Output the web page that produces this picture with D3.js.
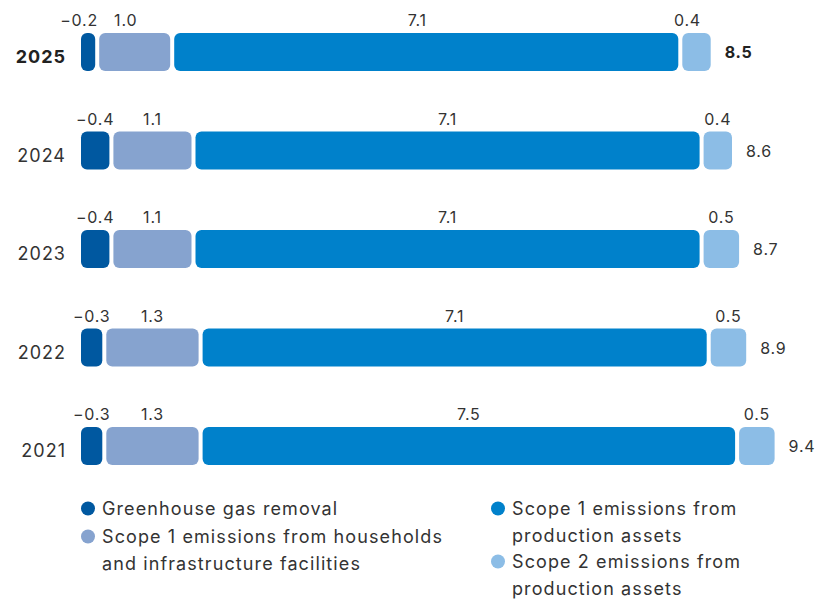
<!DOCTYPE html>
<html>
<head>
<meta charset="utf-8">
<script src="https://cdn.jsdelivr.net/npm/d3@7"></script>
<style>
  html, body { margin: 0; padding: 0; background: #ffffff; }
  svg text { font-family: Inter, "Open Sans", sans-serif; fill: #333333; }
</style>
</head>
<body>
<svg id="chart" width="816" height="599"></svg>
<script>
// ---- data ----
const years = ["2025", "2024", "2023", "2022", "2021"];
const removal = [-0.2, -0.4, -0.4, -0.3, -0.3];
const scope1Households = [1.0, 1.1, 1.1, 1.3, 1.3];
const scope1Production = [7.1, 7.1, 7.1, 7.1, 7.5];
const scope2Production = [0.4, 0.4, 0.5, 0.5, 0.5];
const totals = ["8.5", "8.6", "8.7", "8.9", "9.4"];
const highlightYear = "2025";

const seriesNames = [
  "Greenhouse gas removal",
  "Scope 1 emissions from households and infrastructure facilities",
  "Scope 1 emissions from production assets",
  "Scope 2 emissions from production assets"
];
const legendLines = [
  ["Greenhouse gas removal"],
  ["Scope 1 emissions from households", "and infrastructure facilities"],
  ["Scope 1 emissions from", "production assets"],
  ["Scope 2 emissions from", "production assets"]
];
const colors = ["#0058a0", "#86a3cf", "#0081cb", "#8cbde6"];

// ---- layout ----
const svg = d3.select("#chart");
const x0 = 81, gap = 4;
const x = d3.scaleLinear().domain([0, 10]).range([0, 710]);
const y = d3.scaleBand().domain(years).range([33, 465]).paddingInner(1 - 38 / 98.5).paddingOuter(0);

const seriesArrays = [removal, scope1Households, scope1Production, scope2Production];

years.forEach((yr, i) => {
  const g = svg.append("g");
  const bold = yr === highlightYear;
  const shift = bold ? -9 : 0;
  let cursor = x0;
  seriesArrays.forEach((arr, s) => {
    const v = arr[i];
    const w = x(Math.abs(v));
    g.append("rect")
      .attr("x", cursor)
      .attr("y", y(yr))
      .attr("width", w)
      .attr("height", y.bandwidth())
      .attr("rx", 6).attr("ry", 6)
      .attr("fill", colors[s]);
    g.append("text")
      .attr("x", cursor + w / 2 + shift)
      .attr("y", y(yr) - 7)
      .attr("text-anchor", "middle")
      .attr("font-size", 16)
      .attr("letter-spacing", 0.8)
      .text(v < 0 ? "\u2212" + d3.format(".1f")(Math.abs(v)) : d3.format(".1f")(v));
    cursor += w + gap;
  });
  const endX = cursor - gap;
  g.append("text")
    .attr("x", endX + 14)
    .attr("y", y(yr) + y.bandwidth() / 2 + 6)
    .attr("font-size", 16)
    .attr("letter-spacing", 0.8)
    .attr("font-weight", bold ? 700 : 400)
    .style("fill", bold ? "#222" : "#333")
    .text(totals[i]);
  g.append("text")
    .attr("x", 66)
    .attr("y", y(yr) + y.bandwidth() / 2 + 11)
    .attr("text-anchor", "end")
    .attr("font-size", 18)
    .attr("letter-spacing", 1)
    .attr("font-weight", bold ? 700 : 400)
    .style("fill", bold ? "#222" : "#333")
    .text(yr);
});

// ---- legend ----
const legendPos = [
  { cx: 88, base: 515 },
  { cx: 88, base: 543 },
  { cx: 498, base: 515 },
  { cx: 498, base: 568 }
];
const lineH = 26.5;
legendLines.forEach((lines, s) => {
  const p = legendPos[s];
  const g = svg.append("g");
  g.append("circle")
    .attr("cx", p.cx)
    .attr("cy", p.base - 6.5)
    .attr("r", 7)
    .attr("fill", colors[s]);
  lines.forEach((ln, k) => {
    g.append("text")
      .attr("x", p.cx + 14)
      .attr("y", p.base + k * lineH)
      .attr("font-size", 18)
      .attr("letter-spacing", 1.1)
      .text(ln);
  });
});
</script>
</body>
</html>
